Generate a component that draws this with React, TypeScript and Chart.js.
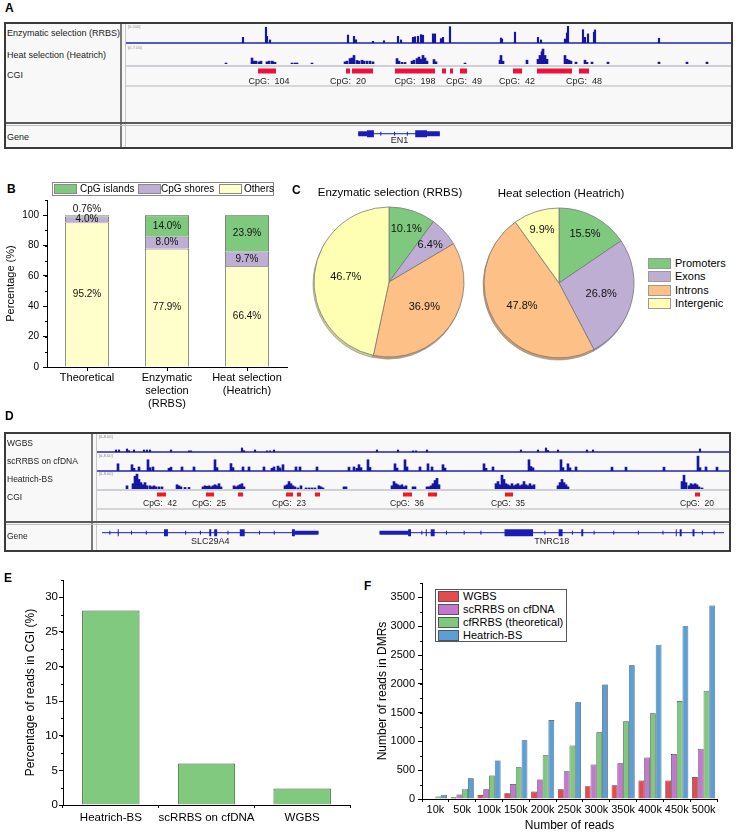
import React, { useEffect, useRef } from 'react';
import { Chart, registerables } from 'chart.js';
Chart.register(...registerables);

const FONT = '"Liberation Sans", Arial, Helvetica, sans-serif';
Chart.defaults.font.family = FONT;
Chart.defaults.color = '#000';

// ---------------- Panel A : EN1 locus (position along window, signal) ----------------
const aRrbsPeaks = [
  [117, 30], [140, 83], [141, 35], [144, 16], [222, 42], [228, 35], [230, 17], [247, 9], [258, 12],
  [272, 35], [275, 16], [287, 30], [289, 33], [292, 35], [295, 44], [297, 41], [307, 48], [309, 48],
  [315, 23], [317, 30], [324, 86], [375, 26], [376, 21], [389, 57], [412, 30], [415, 16], [439, 21],
  [441, 53], [442, 88], [457, 70], [459, 30], [462, 48], [468, 57], [469, 69], [533, 25],
];
const aHeatPeaks = [
  [100, 0.35], [126, 2.2], [128, 1.05], [130, 1.05], [133, 0.8], [135, 1.05], [141, 0.8], [143, 1.05],
  [146, 1.05], [147, 0.8], [149, 0.6], [166, 0.35], [169, 0.35], [171, 0.35], [186, 0.35],
  [219, 0.8], [221, 1.05], [224, 2.0], [226, 2.2], [228, 3.15], [231, 1.3], [233, 1.05], [236, 1.4],
  [238, 1.05], [241, 1.05], [244, 1.05], [247, 0.8], [271, 2.0], [273, 1.05], [276, 0.6], [279, 0.6],
  [286, 1.05], [288, 1.4], [291, 2.0], [293, 2.55], [295, 1.75], [297, 3.15], [299, 2.2], [301, 1.05],
  [308, 1.65], [310, 0.8], [339, 0.35], [374, 1.4], [375, 3.15], [377, 1.05], [401, 1.4],
  [412, 1.75], [414, 3.15], [416, 4.5], [417, 5.5], [419, 3.15], [421, 1.75], [439, 3.15], [441, 1.75],
  [443, 1.4], [445, 1.05], [450, 0.7], [459, 1.4], [461, 0.6], [466, 0.7], [482, 0.7], [533, 0.7],
  [561, 0.7], [581, 0.7],
];
const aCgiIslands = [
  [132, 150], [220, 224], [226, 247], [269, 309], [316, 320], [324, 327], [334, 341], [387, 396],
  [411, 446], [453, 463],
];
const aCgiLabelPos = [143, 222, 289, 338, 391, 458];
const aCgiCounts = [104, 20, 198, 49, 42, 48];
const aGeneIntrons = [[231, 314]];
const aGeneUtrs = [[231, 240], [301, 314]];
const aGeneExons = [[240, 247], [289, 301]];
const aGeneStrandMarks = [254, 268, 281];
const aGeneNames = ['EN1'];
const aGeneNamePos = [273];

// ---------------- Panel B ----------------
const bCategories = [['Theoretical'], ['Enzymatic', 'selection', '(RRBS)'], ['Heat selection', '(Heatrich)']];
const bIslands = [0.76, 14.0, 23.9];
const bShores = [4.0, 8.0, 9.7];
const bOthers = [95.2, 77.9, 66.4];
const bLegend = ['CpG islands', 'CpG shores', 'Others'];

// ---------------- Panel C ----------------
const cRegions = ['Promoters', 'Exons', 'Introns', 'Intergenic'];
const cRrbs = [10.1, 6.4, 36.9, 46.7];
const cHeatrich = [15.5, 26.8, 47.8, 9.9];
const cTitles = ['Enzymatic selection (RRBS)', 'Heat selection (Heatrich)'];

// ---------------- Panel D : SLC29A4 / TNRC18 locus ----------------
const dWgbsPeaks = [
  [19, 0.9], [22, 0.9], [30, 1.35], [32, 0.6], [37, 0.9], [47, 0.9], [50, 0.9], [53, 0.9], [74, 0.9],
  [92, 0.5], [94, 0.5], [145, 1.8], [147, 0.6], [158, 0.9], [170, 0.5], [173, 0.5], [177, 0.9],
  [280, 0.9], [301, 0.9], [316, 0.5], [319, 0.5], [330, 0.9], [424, 0.9], [441, 0.9], [449, 1.8],
  [451, 0.7], [461, 0.9], [490, 0.9], [496, 0.9], [603, 1.35],
];
const dScrrbsPeaks = [
  [21, 3.2], [35, 2.8], [37, 1.2], [42, 1.8], [51, 5.0], [53, 1.5], [56, 1.8], [72, 1.2], [74, 1.7],
  [85, 1.8], [97, 1.8], [118, 5.0], [120, 1.5], [134, 3.3], [136, 1.5], [146, 1.8], [152, 1.8],
  [167, 1.8], [175, 1.2], [177, 1.8], [181, 2.2], [183, 1.4], [186, 2.8], [199, 1.8], [203, 1.8],
  [220, 1.8], [252, 1.7], [257, 1.8], [260, 1.2], [262, 2.8], [264, 1.5], [271, 5.0], [273, 1.6],
  [298, 3.2], [300, 1.3], [308, 5.0], [310, 1.8], [323, 1.8], [331, 3.2], [335, 1.8], [346, 2.8],
  [348, 1.3], [387, 3.2], [389, 1.2], [396, 1.8], [432, 5.0], [434, 2.0], [436, 1.4], [464, 5.0],
  [466, 1.5], [471, 3.2], [473, 1.4], [479, 1.8], [515, 1.7], [529, 1.7], [567, 1.7], [601, 6.6],
  [603, 1.5], [609, 1.8], [620, 1.7],
];
const dHeatPeaks = [
  [30, 1.5], [36, 2.5], [38, 6], [40, 7], [42, 4.5], [44, 3], [46, 2], [48, 3], [50, 1.5], [53, 1.5],
  [55, 1], [57, 1.5], [59, 1], [62, 1], [65, 1], [80, 2], [82, 1.5], [84, 1], [88, 0.75], [92, 0.75],
  [106, 1], [108, 1.5], [110, 1.25], [112, 1.5], [114, 1], [116, 1.5], [118, 2], [120, 1.5], [122, 2.5],
  [124, 1], [137, 1.5], [139, 1], [141, 1.5], [143, 2], [145, 2.5], [147, 1], [188, 1.5], [190, 2],
  [192, 3.5], [194, 2.5], [196, 1.5], [198, 1], [201, 0.5], [204, 1.5], [209, 0.5], [212, 0.5],
  [215, 0.5], [218, 0.5], [222, 1.5], [224, 1], [226, 0.5], [247, 1], [249, 1], [295, 1.5], [297, 3.5],
  [299, 2.5], [301, 2], [303, 1.5], [305, 2], [307, 1], [309, 1.5], [316, 1], [318, 1], [330, 1],
  [332, 1], [334, 1.5], [336, 2.5], [338, 4], [340, 5], [342, 2], [399, 2.5], [401, 3.5], [403, 2],
  [405, 6.5], [407, 4.5], [409, 2.5], [411, 2], [413, 1.5], [415, 2.5], [417, 1.5], [419, 2], [421, 2.5],
  [423, 1.5], [425, 2], [427, 3.5], [429, 2], [431, 1.5], [433, 2.5], [435, 1.5], [437, 2], [461, 1.5],
  [463, 3], [465, 4.5], [467, 3], [469, 2], [471, 1], [585, 3.5], [587, 6.5], [589, 3], [592, 1.5],
  [594, 2.5], [596, 2], [598, 2.5], [600, 2], [602, 1], [605, 0.5],
];
const dCgiIslands = [
  [60, 69], [109, 117], [141, 146], [189, 196], [200, 204], [218, 223], [306, 315], [331, 340],
  [408, 416], [598, 603],
];
const dCgiLabelPos = [63, 112, 192, 310, 411, 600];
const dCgiCounts = [42, 25, 23, 36, 35, 20];
const dGeneIntrons = [[0, 220], [282, 632]];
const dGeneUtrs = [[196, 220], [282, 311]];
const dGeneExons = [
  [16, 17], [63, 67], [109, 111], [114, 117], [140, 145], [193, 196], [311, 314], [329, 330], [334, 338],
  [409, 438], [464, 468], [487, 489], [583, 584], [587, 589], [600, 602],
];
const dGeneStrandMarks = [8, 30, 45, 85, 100, 128, 160, 175, 325, 350, 368, 385, 450, 478, 500, 520, 545, 570, 610, 622];
const dGeneInnerMarks = [422, 433];
const dGeneNames = ['SLC29A4', 'TNRC18'];
const dGeneNamePos = [110, 457];

// ---------------- Panel E ----------------
const eMethods = ['Heatrich-BS', 'scRRBS on cfDNA', 'WGBS'];
const eCgiPct = [28.1, 6.0, 2.4];

// ---------------- Panel F ----------------
const fReads = ['10k', '50k', '100k', '150k', '200k', '250k', '300k', '350k', '400k', '450k', '500k'];
const fWgbs = [3, 30, 70, 100, 130, 170, 220, 240, 320, 320, 380];
const fScrrbs = [10, 80, 170, 260, 340, 480, 600, 620, 720, 780, 870];
const fCfrrbs = [45, 180, 410, 550, 760, 930, 1160, 1350, 1490, 1700, 1880];
const fHeatrich = [75, 360, 670, 1020, 1370, 1680, 1990, 2320, 2680, 3000, 3360];
const fNames = ['WGBS', 'scRRBS on cfDNA', 'cfRRBS (theoretical)', 'Heatrich-BS'];

// ---------------- styles ----------------
const TRACK_BLUE = '#1616a4';
const GENE_BLUE = '#1c1cb6';
const GREEN = '#7fc97f';
const PURPLE = '#beaed4';
const ORANGE = '#fdc086';
const YELLOW_B = '#ffffcc';
const YELLOW_C = '#ffffb3';
const cColors = [GREEN, PURPLE, ORANGE, YELLOW_C];
const fColors = ['#e8494d', '#c377cf', '#7fc97f', '#5aa0d8'];

// ---------------- helpers ----------------
function shade(hex: string, f: number) {
  const n = parseInt(hex.slice(1), 16);
  const r = Math.round(((n >> 16) & 255) * f);
  const g = Math.round(((n >> 8) & 255) * f);
  const b = Math.round((n & 255) * f);
  return `rgb(${r},${g},${b})`;
}

type TextItem = { x: number; y: number; text: string; font: string; color?: string };

function textPlugin(items: TextItem[]) {
  return {
    id: 'textItems',
    afterDatasetsDraw(chart: any) {
      const ctx = chart.ctx;
      const xs = chart.scales.x;
      const ys = chart.scales.y;
      ctx.save();
      ctx.textAlign = 'center';
      ctx.textBaseline = 'middle';
      items.forEach((it) => {
        ctx.font = it.font;
        ctx.fillStyle = it.color || '#222';
        ctx.fillText(it.text, xs.getPixelForValue(it.x), ys.getPixelForValue(it.y));
      });
      ctx.restore();
    },
  };
}

function minorTicks(step: number, len = 2) {
  return {
    id: 'minorTicks',
    afterDraw(chart: any) {
      const y = chart.scales.y;
      const ctx = chart.ctx;
      ctx.save();
      ctx.strokeStyle = '#000';
      ctx.lineWidth = 1;
      for (let v = y.min; v <= y.max + 1e-9; v += step) {
        const p = Math.round(y.getPixelForValue(v)) + 0.5;
        ctx.beginPath();
        ctx.moveTo(y.right - len, p);
        ctx.lineTo(y.right, p);
        ctx.stroke();
      }
      ctx.restore();
    },
  };
}

const stackLabels = {
  id: 'stackLabels',
  afterDatasetsDraw(chart: any) {
    const ctx = chart.ctx;
    ctx.save();
    ctx.font = `10px ${FONT}`;
    ctx.fillStyle = '#111';
    ctx.textAlign = 'center';
    ctx.textBaseline = 'middle';
    chart.data.datasets.forEach((ds: any, i: number) => {
      chart.getDatasetMeta(i).data.forEach((el: any, j: number) => {
        const v = ds.data[j] as number;
        const txt = (v < 1 ? v.toFixed(2) : v.toFixed(1)) + '%';
        const yy = v < 2 ? el.y - 6 : (el.y + el.base) / 2;
        ctx.fillText(txt, el.x, yy);
      });
    });
    ctx.restore();
  },
};

const pieShadow = {
  id: 'pieShadow',
  beforeDatasetsDraw(chart: any) {
    const meta = chart.getDatasetMeta(0);
    const colors = chart.data.datasets[0].backgroundColor as string[];
    const ctx = chart.ctx;
    ctx.save();
    meta.data.forEach((el: any, i: number) => {
      const { x, y, startAngle, endAngle, outerRadius } = el.getProps(['x', 'y', 'startAngle', 'endAngle', 'outerRadius'], true);
      ctx.beginPath();
      ctx.moveTo(x - 1, y + 2);
      ctx.arc(x - 1, y + 2, outerRadius, startAngle, endAngle);
      ctx.closePath();
      ctx.fillStyle = shade(colors[i], 0.8);
      ctx.fill();
      ctx.strokeStyle = '#8a8a8a';
      ctx.lineWidth = 0.6;
      ctx.stroke();
    });
    ctx.restore();
  },
};

const pieLabels = {
  id: 'pieLabels',
  afterDatasetsDraw(chart: any) {
    const meta = chart.getDatasetMeta(0);
    const data = chart.data.datasets[0].data as number[];
    const ctx = chart.ctx;
    ctx.save();
    ctx.font = `11px ${FONT}`;
    ctx.fillStyle = '#111';
    ctx.textAlign = 'center';
    ctx.textBaseline = 'middle';
    meta.data.forEach((el: any, i: number) => {
      const { x, y, startAngle, endAngle, outerRadius } = el.getProps(['x', 'y', 'startAngle', 'endAngle', 'outerRadius'], true);
      const mid = (startAngle + endAngle) / 2;
      const f = data[i] < 20 ? 0.74 : 0.58;
      ctx.fillText(data[i].toFixed(1) + '%', x + Math.cos(mid) * outerRadius * f, y + Math.sin(mid) * outerRadius * f);
    });
    ctx.restore();
  },
};

const baseOpts = (extra: any) => ({
  animation: false,
  responsive: false,
  events: [],
  plugins: { legend: { display: false }, tooltip: { enabled: false } },
  ...extra,
});

function signalTrack(peaks: number[][], yMax: number, xMax: number, baseline: boolean, thickness: number) {
  const datasets: any[] = [
    {
      type: 'bar',
      data: peaks.map(([x, y]) => ({ x, y })),
      backgroundColor: TRACK_BLUE,
      borderWidth: 0,
      barThickness: thickness,
    },
  ];
  if (baseline) {
    datasets.push({
      type: 'line',
      data: [{ x: 0, y: 0 }, { x: xMax, y: 0 }],
      borderColor: '#2222b8',
      borderWidth: 1.5,
      pointRadius: 0,
      clip: 4,
    });
  }
  return {
    type: 'bar',
    data: { datasets },
    options: baseOpts({
      layout: { padding: { left: 0, right: 0, top: 0, bottom: 1 } },
      scales: {
        x: { type: 'linear', min: 0, max: xMax, display: false, offset: false },
        y: { min: 0, max: yMax, display: false },
      },
    }),
  };
}

type Seg = { ranges: number[][]; y: number; width: number; color: string };
type Marks = { xs: number[]; y: number; style: string; rotation: number; r: number; color: string };

function featureTrack(xMax: number, height: number, segs: Seg[], marks: Marks[], texts: TextItem[]) {
  const datasets: any[] = segs.map((s) => ({
    type: 'line',
    data: s.ranges.flatMap(([a, b]) => [{ x: a, y: s.y }, { x: b, y: s.y }, { x: b, y: null }]),
    borderColor: s.color,
    borderWidth: s.width,
    borderCapStyle: 'butt',
    pointRadius: 0,
    spanGaps: false,
    clip: 6,
  }));
  marks.forEach((m) => {
    datasets.push({
      type: 'line',
      showLine: false,
      data: m.xs.map((x) => ({ x, y: m.y })),
      pointStyle: m.style,
      pointRotation: m.rotation,
      pointRadius: m.r,
      pointBorderColor: m.color,
      pointBackgroundColor: m.color,
      pointBorderWidth: 1,
      clip: 6,
    });
  });
  return {
    type: 'line',
    data: { datasets },
    options: baseOpts({
      layout: { padding: 0 },
      scales: {
        x: { type: 'linear', min: 0, max: xMax, display: false, offset: false },
        y: { type: 'linear', min: 0, max: height, reverse: true, display: false },
      },
    }),
    plugins: [textPlugin(texts)],
  };
}

const axisGrid = (len: number, offset?: boolean) => ({
  display: true,
  drawOnChartArea: false,
  drawTicks: true,
  tickLength: len,
  color: '#000',
  lineWidth: 1,
  ...(offset === undefined ? {} : { offset }),
});
const axisBorder = { display: true, color: '#000', width: 1 };

// explicit major ticks from min up to (not beyond) max
function stepTicks(step: number) {
  return (s: any) => {
    const t: any[] = [];
    for (let v = s.min; v <= s.max + 1e-9; v += step) t.push({ value: Math.round(v * 1000) / 1000 });
    s.ticks = t;
  };
}
const plainNumber = (v: any) => `${v}`;

// ---------------- configs ----------------
function bConfig() {
  const common = { borderColor: '#555', borderWidth: 0.8, barPercentage: 0.55, categoryPercentage: 1 };
  return {
    type: 'bar',
    data: {
      labels: bCategories,
      datasets: [
        { label: bLegend[2], data: bOthers, backgroundColor: YELLOW_B, ...common },
        { label: bLegend[1], data: bShores, backgroundColor: PURPLE, ...common },
        { label: bLegend[0], data: bIslands, backgroundColor: GREEN, ...common },
      ],
    },
    options: baseOpts({
      layout: { padding: { left: 0, right: 13, top: 30, bottom: 0 } },
      scales: {
        x: {
          stacked: true,
          grid: axisGrid(4, false),
          border: axisBorder,
          ticks: { font: { size: 11 }, color: '#000', padding: 0, maxRotation: 0, autoSkip: false },
          afterFit: (s: any) => { s.height = 48; },
        },
        y: {
          stacked: true,
          min: 0,
          max: 110,
          grid: axisGrid(4),
          border: axisBorder,
          ticks: { font: { size: 10 }, color: '#000', padding: 4, autoSkip: false, callback: plainNumber },
          afterBuildTicks: stepTicks(20),
          title: { display: true, text: 'Percentage (%)', font: { size: 11 }, color: '#000', padding: { top: 4, bottom: 0 } },
          afterFit: (s: any) => { s.width = 47; },
        },
      },
    }),
    plugins: [stackLabels, minorTicks(10)],
  };
}

function pieConfig(values: number[]) {
  return {
    type: 'pie',
    data: {
      labels: cRegions,
      datasets: [{ data: values, backgroundColor: cColors, borderColor: '#7a7a7a', borderWidth: 0.8 }],
    },
    options: baseOpts({ radius: 75, layout: { padding: 0 } }),
    plugins: [pieShadow, pieLabels],
  };
}

function eConfig() {
  return {
    type: 'bar',
    data: {
      labels: eMethods,
      datasets: [{ data: eCgiPct, backgroundColor: '#80c97f', borderColor: '#2f5f2f', borderWidth: 1, barPercentage: 0.6, categoryPercentage: 1 }],
    },
    options: baseOpts({
      layout: { padding: { left: 19, right: 10, top: 20, bottom: 0 } },
      scales: {
        x: {
          grid: axisGrid(3),
          border: axisBorder,
          ticks: { font: { size: 11.5 }, color: '#000', padding: 3, maxRotation: 0, autoSkip: false },
          afterFit: (s: any) => { s.height = 28; },
        },
        y: {
          min: 0,
          max: 32.5,
          grid: axisGrid(4),
          border: axisBorder,
          ticks: { font: { size: 11.5 }, color: '#000', padding: 1, autoSkip: false, callback: plainNumber },
          afterBuildTicks: stepTicks(5),
          title: { display: true, text: 'Percentage of reads in CGI (%)', font: { size: 12 }, color: '#000', padding: { top: 4, bottom: 0 } },
          afterFit: (s: any) => { s.width = 44; },
        },
      },
    }),
    plugins: [minorTicks(2.5)],
  };
}

function fConfig() {
  const series = [fWgbs, fScrrbs, fCfrrbs, fHeatrich];
  return {
    type: 'bar',
    data: {
      labels: fReads,
      datasets: series.map((d, i) => ({
        label: fNames[i],
        data: d,
        backgroundColor: fColors[i],
        borderColor: '#3c3c3c',
        borderWidth: 0.7,
        barPercentage: 1,
        categoryPercentage: 0.86,
      })),
    },
    options: baseOpts({
      layout: { padding: { left: 11, right: 20, top: 23, bottom: 0 } },
      scales: {
        x: {
          grid: axisGrid(3),
          border: axisBorder,
          ticks: { font: { size: 11 }, color: '#000', padding: 1, maxRotation: 0, autoSkip: false },
          title: { display: true, text: 'Number of reads', font: { size: 12 }, color: '#000', padding: { top: 0, bottom: 0 } },
          afterFit: (s: any) => { s.height = 34; },
        },
        y: {
          min: 0,
          max: 3750,
          grid: axisGrid(4),
          border: axisBorder,
          ticks: { font: { size: 11 }, color: '#000', padding: 3, autoSkip: false, callback: plainNumber },
          afterBuildTicks: stepTicks(500),
          title: { display: true, text: 'Number of reads in DMRs', font: { size: 12 }, color: '#000', padding: { top: 4, bottom: 0 } },
          afterFit: (s: any) => { s.width = 51; },
        },
      },
    }),
    plugins: [minorTicks(250)],
  };
}

// ---------------- components ----------------
function ChartCanvas({ left, top, width, height, make }: { left: number; top: number; width: number; height: number; make: () => any }) {
  const ref = useRef<HTMLCanvasElement>(null);
  useEffect(() => {
    const chart = new Chart(ref.current as HTMLCanvasElement, make());
    return () => chart.destroy();
  }, []);
  return <canvas ref={ref} width={width} height={height} style={{ position: 'absolute', left, top, width, height }} />;
}

function Txt({ x, y, size = 10, bold = false, align = 'left', color = '#000', children }: any) {
  const w = 320;
  const left = align === 'left' ? x : align === 'center' ? x - w / 2 : x - w;
  return (
    <div
      style={{
        position: 'absolute', left, top: y - size / 2 - 1, width: w, height: size + 2, lineHeight: `${size + 2}px`,
        fontSize: size, fontWeight: bold ? 700 : 400, textAlign: align, color, whiteSpace: 'pre', fontFamily: FONT,
      }}
    >
      {children}
    </div>
  );
}

function Rect({ x, y, w, h, bg, border }: any) {
  return <div style={{ position: 'absolute', left: x, top: y, width: w, height: h, background: bg, border, boxSizing: 'border-box' }} />;
}

function BrowserFrame({ x, y, w, h, divX, sepY }: any) {
  return (
    <>
      <Rect x={x} y={y} w={w} h={h} bg="#f8f8f8" border="2px solid #3a3a3a" />
      <Rect x={divX} y={y + 2} w={1.5} h={h - 4} bg="#7a7a7a" />
      <Rect x={divX + 5} y={y + 2} w={1} h={h - 4} bg="#c8c8c8" />
      <Rect x={x + 2} y={sepY} w={w - 4} h={2} bg="#5a5a5a" />
      <Rect x={x + 2} y={sepY + 3} w={w - 4} h={1} bg="#bdbdbd" />
    </>
  );
}

const A_X = 126;
const A_W = 605;
const D_X = 97;
const D_W = 632;

export default function App() {
  const aCgiTexts = aCgiLabelPos.map((x, i) => ({ x, y: 16, text: `CpG:  ${aCgiCounts[i]}`, font: `9px ${FONT}` }));
  const aGeneTexts = aGeneNamePos.map((x, i) => ({ x, y: 17, text: aGeneNames[i], font: `9px ${FONT}` }));
  const dCgiTexts = dCgiLabelPos.map((x, i) => ({ x, y: 14, text: `CpG:  ${dCgiCounts[i]}`, font: `8.5px ${FONT}` }));
  const dGeneTexts = dGeneNamePos.map((x, i) => ({ x, y: 20, text: dGeneNames[i], font: `9px ${FONT}` }));

  return (
    <div style={{ position: 'absolute', left: 0, top: 0, width: 737, height: 833, background: '#fff', overflow: 'hidden', fontFamily: FONT }}>
      {/* ---------- Panel A ---------- */}
      <Txt x={5} y={8} size={12} bold>A</Txt>
      <BrowserFrame x={4} y={22} w={729} h={127} divX={120} sepY={122} />
      <Rect x={A_X} y={65} w={A_W} h={2} bg="#cfcfd6" />
      <Rect x={A_X} y={85} w={A_W} h={2} bg="#d6d6d6" />
      <Txt x={7} y={33} size={9} color="#222">Enzymatic selection (RRBS)</Txt>
      <Txt x={7} y={55} size={9} color="#222">Heat selection (Heatrich)</Txt>
      <Txt x={7} y={75} size={9} color="#222">CGI</Txt>
      <Txt x={7} y={137} size={9} color="#222">Gene</Txt>
      <Txt x={128} y={27} size={4} color="#888">[0-100]</Txt>
      <Txt x={128} y={48} size={4} color="#888">[0-7.00]</Txt>
      <ChartCanvas left={A_X} top={24} width={A_W} height={20} make={() => signalTrack(aRrbsPeaks, 100, A_W, true, 1.5)} />
      <ChartCanvas left={A_X} top={45} width={A_W} height={20} make={() => signalTrack(aHeatPeaks, 7, A_W, false, 2)} />
      <ChartCanvas
        left={A_X} top={66} width={A_W} height={20}
        make={() => featureTrack(A_W, 20, [{ ranges: aCgiIslands, y: 5, width: 5, color: '#f0103c' }], [], aCgiTexts)}
      />
      <ChartCanvas
        left={A_X} top={126} width={A_W} height={22}
        make={() =>
          featureTrack(
            A_W, 22,
            [
              { ranges: aGeneIntrons, y: 5, width: 1, color: GENE_BLUE },
              { ranges: aGeneUtrs, y: 5, width: 5, color: GENE_BLUE },
              { ranges: aGeneExons, y: 5, width: 7, color: GENE_BLUE },
            ],
            [{ xs: aGeneStrandMarks, y: 5, style: 'line', rotation: 90, r: 2, color: GENE_BLUE }],
            aGeneTexts,
          )
        }
      />

      {/* ---------- Panel B ---------- */}
      <Txt x={7} y={189} size={12} bold>B</Txt>
      <ChartCanvas left={0} top={170} width={300} height={245} make={bConfig} />
      <div style={{ position: 'absolute', left: 52, top: 182, width: 222, height: 14, border: '1px solid #8a8a8a', boxSizing: 'border-box', background: '#fff' }}>
        {[GREEN, PURPLE, YELLOW_B].map((c, i) => (
          <div key={i} style={{ position: 'absolute', left: [1, 85, 166][i], top: 1, width: 23, height: 10, background: c, border: '1px solid #8a8a8a', boxSizing: 'border-box' }} />
        ))}
        {bLegend.map((t, i) => (
          <div key={t} style={{ position: 'absolute', left: [27, 108, 191][i], top: 0, lineHeight: '12px', fontSize: 10, whiteSpace: 'pre' }}>{t}</div>
        ))}
      </div>

      {/* ---------- Panel C ---------- */}
      <Txt x={292} y={190} size={12} bold>C</Txt>
      <Txt x={390} y={193} size={11.5} align="center">{cTitles[0]}</Txt>
      <Txt x={561} y={194} size={11.5} align="center">{cTitles[1]}</Txt>
      <ChartCanvas left={309} top={202} width={160} height={160} make={() => pieConfig(cRrbs)} />
      <ChartCanvas left={479} top={203} width={160} height={160} make={() => pieConfig(cHeatrich)} />
      {cRegions.map((r, i) => (
        <React.Fragment key={r}>
          <Rect x={648} y={258 + i * 13.3} w={23} h={11} bg={cColors[i]} border="1px solid #9a9a9a" />
          <Txt x={675} y={263.5 + i * 13.3} size={11}>{r}</Txt>
        </React.Fragment>
      ))}

      {/* ---------- Panel D ---------- */}
      <Txt x={5} y={416} size={12} bold>D</Txt>
      <BrowserFrame x={4} y={432} w={727} h={120} divX={91} sepY={521} />
      <Rect x={D_X} y={489} w={D_W} h={2} bg="#cfcfd6" />
      <Rect x={D_X} y={508} w={D_W} h={2} bg="#d6d6d6" />
      <Txt x={7} y={443} size={8.5} color="#222">WGBS</Txt>
      <Txt x={7} y={461} size={8.5} color="#222">scRRBS on cfDNA</Txt>
      <Txt x={7} y={479} size={8.5} color="#222">Heatrich-BS</Txt>
      <Txt x={7} y={497} size={8.5} color="#222">CGI</Txt>
      <Txt x={7} y={536} size={8.5} color="#222">Gene</Txt>
      <Txt x={99} y={437} size={4} color="#888">[0-8.00]</Txt>
      <Txt x={99} y={456} size={4} color="#888">[0-8.00]</Txt>
      <Txt x={99} y={474} size={4} color="#888">[0-8.00]</Txt>
      <ChartCanvas left={D_X} top={434} width={D_W} height={19} make={() => signalTrack(dWgbsPeaks, 8, D_W, true, 1.5)} />
      <ChartCanvas left={D_X} top={453} width={D_W} height={19} make={() => signalTrack(dScrrbsPeaks, 8, D_W, true, 2)} />
      <ChartCanvas left={D_X} top={472} width={D_W} height={18} make={() => signalTrack(dHeatPeaks, 8, D_W, false, 2)} />
      <ChartCanvas
        left={D_X} top={490} width={D_W} height={19}
        make={() => featureTrack(D_W, 19, [{ ranges: dCgiIslands, y: 4.5, width: 4, color: '#f21a1a' }], [], dCgiTexts)}
      />
      <ChartCanvas
        left={D_X} top={524} width={D_W} height={26}
        make={() =>
          featureTrack(
            D_W, 26,
            [
              { ranges: dGeneIntrons, y: 6, width: 1, color: GENE_BLUE },
              { ranges: dGeneUtrs, y: 6, width: 4, color: GENE_BLUE },
              { ranges: dGeneExons, y: 6, width: 7, color: GENE_BLUE },
            ],
            [
              { xs: dGeneStrandMarks, y: 6, style: 'line', rotation: 90, r: 2, color: GENE_BLUE },
              { xs: dGeneInnerMarks, y: 6, style: 'triangle', rotation: -90, r: 1.5, color: '#ffffff' },
            ],
            dGeneTexts,
          )
        }
      />

      {/* ---------- Panel E ---------- */}
      <Txt x={4} y={578} size={12} bold>E</Txt>
      <ChartCanvas left={0} top={560} width={360} height={273} make={eConfig} />

      {/* ---------- Panel F ---------- */}
      <Txt x={364} y={586} size={12} bold>F</Txt>
      <ChartCanvas left={360} top={560} width={377} height={273} make={fConfig} />
      <div style={{ position: 'absolute', left: 435, top: 589, width: 132, height: 53, border: '1px solid #555', boxSizing: 'border-box', background: '#fff' }}>
        {fNames.map((n, i) => (
          <React.Fragment key={n}>
            <div style={{ position: 'absolute', left: 2, top: 1 + i * 13, width: 21, height: 11, background: fColors[i], border: '1px solid #555', boxSizing: 'border-box' }} />
            <div style={{ position: 'absolute', left: 27, top: i * 13, lineHeight: '13px', fontSize: 11, whiteSpace: 'pre' }}>{n}</div>
          </React.Fragment>
        ))}
      </div>
    </div>
  );
}
